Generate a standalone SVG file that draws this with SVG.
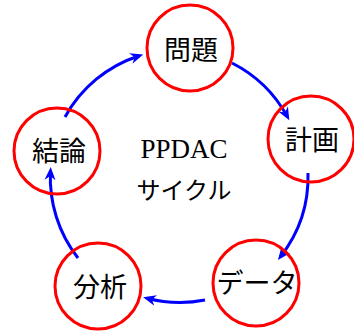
<svg xmlns="http://www.w3.org/2000/svg" width="354" height="331" viewBox="0 0 354 331">
<style>
.node circle{fill:none;stroke:#ff0000;stroke-width:3}
.node text{font-family:"Noto Sans CJK JP","Noto Sans",sans-serif;font-size:27px;text-anchor:middle;fill:#000}
.edge{fill:none;stroke:#0000ff;stroke-width:3;marker-end:url(#ah)}
.title{font-family:"Liberation Serif","DejaVu Serif",serif;font-size:27px;text-anchor:middle;fill:#000}
.sub{font-family:"Noto Sans CJK JP","Noto Sans",sans-serif;font-size:24px;text-anchor:middle;fill:#000}
</style>
<defs>
<marker id="ah" markerUnits="userSpaceOnUse" markerWidth="14" markerHeight="12" viewBox="0 -6 14 12" refX="9" refY="0" orient="auto">
<path d="M0,-5.5 L13,0 L0,5.5 L4,0 Z" fill="#0000ff"/>
</marker>
</defs>
<rect width="354" height="331" fill="#fff"/>
<g id="connectors">
<path class="edge" d="M65,117 A130,130 0 0 1 139.4,55.7"/>
<path class="edge" d="M232,63 A130,130 0 0 1 287.4,116.8"/>
<path class="edge" d="M308,173 A130,130 0 0 1 280.4,256.8"/>
<path class="edge" d="M205,300 A130,130 0 0 1 147,298.2"/>
<path class="edge" d="M78,258 A130,130 0 0 1 50.5,171"/>
</g>
<g id="nodes">
<g id="n1" class="node"><circle cx="190" cy="48" r="43"/><text x="191" y="60">問題</text></g>
<g id="n2" class="node"><circle cx="311" cy="139" r="43"/><text x="312" y="150">計画</text></g>
<g id="n3" class="node"><circle cx="256" cy="283" r="43"/><text x="257" y="293">データ</text></g>
<g id="n4" class="node"><circle cx="98" cy="286" r="43"/><text x="100" y="297">分析</text></g>
<g id="n5" class="node"><circle cx="57" cy="151" r="43"/><text x="59" y="161">結論</text></g>
</g>
<g id="center">
<text class="title" x="184" y="158">PPDAC</text>
<text class="sub" x="184" y="199">サイクル</text>
</g>
</svg>
